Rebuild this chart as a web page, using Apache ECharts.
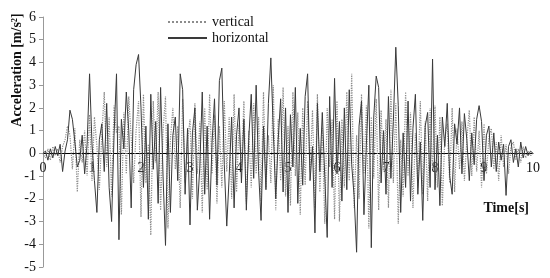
<!DOCTYPE html>
<html>
<head>
<meta charset="utf-8">
<script src="https://cdn.jsdelivr.net/npm/echarts@6/dist/echarts.min.js"></script>
<style>
  html, body { margin: 0; padding: 0; background: #fff; }
  #chart { width: 550px; height: 278px; }
</style>
</head>
<body>
<div id="chart"></div>
<script>
// sampling step of the record [s]
const DT = 0.05;

// horizontal acceleration [m/s2], one row per second
const horizontal = [
  0, 0.1, -0.3, 0.2, -0.2, 0.3, -0.1, 0.4, -0.8, 0.1, 0.6, 1.9, 1.5, 0.5, -0.6, -0.3, 0.8, -0.9, 0.4, 3.5,
  0.4, -1.2, -2.6, 0.6, 1.3, -0.8, 2.2, -1.5, -3.0, 0.8, 3.5, -3.8, 1.5, 0.2, 2.7, 1.0, -2.4, 2.8, 3.9, 4.35,
  2.0, -1.5, 1.2, -2.9, 2.6, -0.7, 1.4, -2.2, 2.9, -1.0, -4.05, 1.3, -2.6, 0.8, 1.6, -1.2, 3.5, 2.8, -1.8, 1.1,
  -3.15, 0.9, 2.0, -2.5, -0.6, 2.7, -1.8, 1.2, -2.9, 0.5, 2.4, -1.4, 3.2, 3.75, -0.5, -3.2, -1.0, 1.6, -2.4, 0.8,
  2.0, -1.3, 1.5, -2.5, 0.7, 2.6, -1.1, 3.0, -0.8, -2.95, 1.2, -1.6, 2.2, 4.2, 1.0, -2.0, 0.6, 2.4, -1.7, 2.0,
  -2.6, 1.7, -0.6, 2.9, -2.2, 1.1, -1.4, 2.5, 3.5, -1.2, 0.3, -3.5, 2.2, -0.8, 1.8, -1.0, -3.7, 2.5, -1.5, 3.3,
  -0.9, 1.4, -2.1, 2.0, -1.6, 2.8, -0.5, -1.9, -4.35, 1.2, 2.3, -2.7, 0.4, 3.0, -4.15, 1.6, 3.4, 2.9, -1.3, 1.0,
  -1.8, 2.5, -1.1, 1.4, 4.67, 2.1, -2.6, 0.9, -1.5, 2.3, -2.1, 1.1, 2.6, -1.8, 0.5, -2.95, 1.2, 1.8, -1.5, 4.15,
  -1.6, 0.8, -2.3, 1.6, 0.3, 2.2, -1.0, -1.8, 1.3, 0.4, 2.0, -0.9, 1.75, 0.6, -1.2, 0.9, -0.5, 1.5, 2.1, 1.4,
  -1.2, 0.8, 1.2, -0.6, 0.9, -0.8, 0.5, -0.3, 0.4, -1.85, 0.3, 0.6, -0.4, 0.2, -0.6, 0.5, -0.2, 0.3, -0.1, 0.1,
  0
];

// vertical acceleration [m/s2], one row per second
const vertical = [
  0, -0.2, 0.2, -0.3, 0.3, -0.1, 0.2, -0.4, 0.3, 0.6, 1.2, 0.8, -0.7, 1.1, -1.7, 0.6, -0.4, 1.0, -1.0, 1.7,
  -1.2, 1.6, 0.3, -1.6, 0.8, 2.7, -0.6, 1.6, -1.9, 2.1, 0.9, 1.2, -2.7, 1.8, -0.9, 2.5, 0.7, -1.3, 1.0, 2.3,
  -2.8, 2.6, -1.3, 0.4, -3.6, 2.3, -0.4, 2.7, -2.5, 1.0, 2.5, -3.3, 0.6, 2.0, -0.7, 1.2, -2.4, 2.4, -1.3, 0.5,
  1.5, -2.0, 2.2, -0.9, 1.4, -2.6, 2.0, -1.6, 2.6, -0.9, 1.7, -2.2, 1.2, -1.5, 2.3, -0.8, 1.6, -2.0, 2.6, -1.7,
  1.3, -0.6, 2.3, -2.2, 1.0, -1.5, 2.2, -0.9, 1.6, -2.1, 2.7, -1.5, 0.8, -1.3, 3.0, -2.5, 1.5, -1.2, 2.9, -1.9,
  1.2, -2.3, 2.7, -1.0, 1.8, -2.7, 2.0, -1.4, 2.3, -0.8, 1.9, -2.4, 2.6, -1.7, 1.1, -3.1, 2.0, -0.6, 1.5, -2.9,
  2.3, -3.0, 1.5, -1.5, 2.7, -1.2, 3.5, -2.4, 0.8, -2.0, 2.6, -0.9, 2.1, -3.3, 1.6, -1.1, 2.4, -2.5, 1.9, -0.8,
  1.5, -2.4, 2.8, -1.3, 2.2, -3.1, 0.6, -1.9, 2.7, -1.0, 1.8, -2.4, 0.9, -1.5, 2.3, -1.8, 1.4, -2.1, 2.0, -0.7,
  2.1, -1.5, 1.6, -2.3, 0.7, 1.3, -1.3, 2.0, -1.7, 1.1, -0.7, 1.4, -1.2, 0.6, 1.9, -1.0, 1.6, -0.8, 1.0, -1.5,
  1.3, -0.9, 0.7, 1.1, -0.7, 0.5, -1.2, 0.8, -0.6, 0.4, -0.9, 0.3, 0.5, -0.3, 0.2, -0.4, 0.3, -0.2, 0.1, -0.1,
  0
];

const Y_MIN = -5;
const Y_MAX = 6;
const SERIF = '"Liberation Serif", "DejaVu Serif", serif';

const GRID_TOP = 17;
const GRID_BOTTOM = 11;
const PLOT_H = 278 - GRID_TOP - GRID_BOTTOM;

function toPairs(values) {
  return values.map((v, i) => [+(i * DT).toFixed(2), v]);
}

const chart = echarts.init(document.getElementById('chart'), null, { renderer: 'canvas' });

const option = {
  animation: false,
  backgroundColor: '#fff',
  grid: { left: 43, right: 17, top: GRID_TOP, bottom: GRID_BOTTOM, containLabel: false },
  legend: {
    left: 162,
    top: 10,
    orient: 'vertical',
    itemWidth: 39,
    itemHeight: 10,
    itemGap: 2,
    itemStyle: { opacity: 0 },
    textStyle: { fontFamily: SERIF, fontSize: 14, color: '#111' },
    data: ['vertical', 'horizontal']
  },
  xAxis: {
    type: 'value',
    min: 0,
    max: 10,
    interval: 1,
    // move the whole axis (line + labels) up to the zero level
    offset: -PLOT_H * (0 - Y_MIN) / (Y_MAX - Y_MIN),
    axisLine: { onZero: false, lineStyle: { color: '#000', width: 1 } },
    axisTick: { show: false },
    axisLabel: { margin: 8, fontFamily: SERIF, fontSize: 14, color: '#111' },
    splitLine: { show: false }
  },
  yAxis: {
    type: 'value',
    min: Y_MIN,
    max: Y_MAX,
    interval: 1,
    axisLine: { show: true, lineStyle: { color: '#999', width: 1 } },
    axisTick: { show: true, length: 4, lineStyle: { color: '#999' } },
    axisLabel: { margin: 7, fontFamily: SERIF, fontSize: 14, color: '#111' },
    splitLine: { show: false }
  },
  graphic: [
    {
      type: 'text',
      x: 17,
      y: 70,
      rotation: Math.PI / 2,
      style: {
        text: 'Acceleration [m/s²]',
        font: 'bold 14px ' + SERIF,
        fill: '#111',
        align: 'center',
        verticalAlign: 'middle'
      }
    },
    {
      type: 'text',
      x: 529,
      y: 208,
      style: {
        text: 'Time[s]',
        font: 'bold 14px ' + SERIF,
        fill: '#111',
        align: 'right',
        verticalAlign: 'middle'
      }
    }
  ],
  series: [
    {
      name: 'vertical',
      type: 'line',
      symbol: 'none',
      data: toPairs(vertical),
      lineStyle: { color: '#8c8c8c', width: 1.2, type: 'dotted' },
      itemStyle: { color: '#8c8c8c' },
      z: 2
    },
    {
      name: 'horizontal',
      type: 'line',
      symbol: 'none',
      data: toPairs(horizontal),
      lineStyle: { color: '#3a3a3a', width: 1 },
      itemStyle: { color: '#3a3a3a' },
      z: 3
    }
  ]
};

chart.setOption(option);
</script>
</body>
</html>
